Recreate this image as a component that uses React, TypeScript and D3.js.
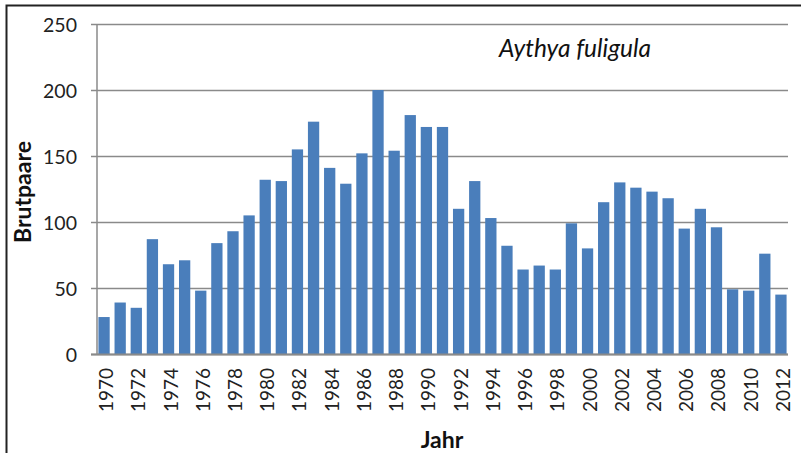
import React from "react";
import * as d3 from "d3";

const years: number[] = d3.range(1970, 2013);
const values: number[] = [
  28, 39, 35, 87, 68, 71, 48, 84, 93, 105,
  132, 131, 155, 176, 141, 129, 152, 200, 154, 181,
  172, 172, 110, 131, 103, 82, 64, 67, 64, 99,
  80, 115, 130, 126, 123, 118, 95, 110, 96, 49,
  48, 76, 45,
];
const yTicks: number[] = [0, 50, 100, 150, 200, 250];
const xTickYears: number[] = years.filter((y) => y % 2 === 0);
const yLabel = "Brutpaare";
const xLabel = "Jahr";
const speciesLabel = "Aythya fuligula";

const W = 801;
const H = 453;
const FONT = "Lato, 'Open Sans', sans-serif";

export default function App() {
  const y = d3.scaleLinear().domain([0, 250]).range([354, 24]);
  const x = d3
    .scaleBand<number>()
    .domain(years)
    .range([96, 789])
    .paddingInner(0.3)
    .paddingOuter(0.15);
  const plotL = 97;
  const plotR = 788;
  const barColor = "#4a7ebb";

  return (
    <svg
      width={W}
      height={H}
      style={{ position: "absolute", left: 0, top: 0, background: "#fff" }}
      fontFamily={FONT}
    >
      <rect x={0} y={0} width={W} height={H} fill="#fff" />
      <rect x={6.5} y={5.5} width={820} height={480} fill="none" stroke="#222" strokeWidth={2} />
      {yTicks.map((t) => (
        <line
          key={t}
          x1={91}
          x2={plotR}
          y1={Math.round(y(t)) + 0.5}
          y2={Math.round(y(t)) + 0.5}
          stroke="#8a8a8a"
          strokeWidth={1.5}
        />
      ))}
      {values.map((v, i) => (
        <rect
          key={years[i]}
          x={x(years[i])!}
          y={y(v)}
          width={x.bandwidth()}
          height={y(0) - y(v)}
          fill={barColor}
        />
      ))}
      <line x1={plotL} x2={plotL} y1={y(250)} y2={y(0)} stroke="#8a8a8a" strokeWidth={1.5} />
      <line x1={91} x2={plotR} y1={y(0) + 0.5} y2={y(0) + 0.5} stroke="#8a8a8a" strokeWidth={2} />
      {yTicks.map((t) => (
        <text
          key={t}
          x={77}
          y={y(t)}
          textAnchor="end"
          dominantBaseline="central"
          fontSize={19.5}
          fill="#222"
        >
          {t}
        </text>
      ))}
      {xTickYears.map((yr) => {
        const cx = x(yr)! + x.bandwidth() / 2 + 1.5;
        return (
          <text
            key={yr}
            transform={`translate(${cx},368) rotate(-90)`}
            textAnchor="end"
            dominantBaseline="central"
            fontSize={19}
            fill="#222"
          >
            {yr}
          </text>
        );
      })}
      <text
        transform={`translate(22,192) rotate(-90)`}
        textAnchor="middle"
        dominantBaseline="central"
        fontSize={23}
        fontWeight="bold"
        fill="#111"
      >
        {yLabel}
      </text>
      <text x={442} y={448} textAnchor="middle" fontSize={23} fontWeight="bold" fill="#111">
        {xLabel}
      </text>
      <text x={499} y={57} fontSize={24.5} fontStyle="italic" fill="#111">
        {speciesLabel}
      </text>
    </svg>
  );
}
